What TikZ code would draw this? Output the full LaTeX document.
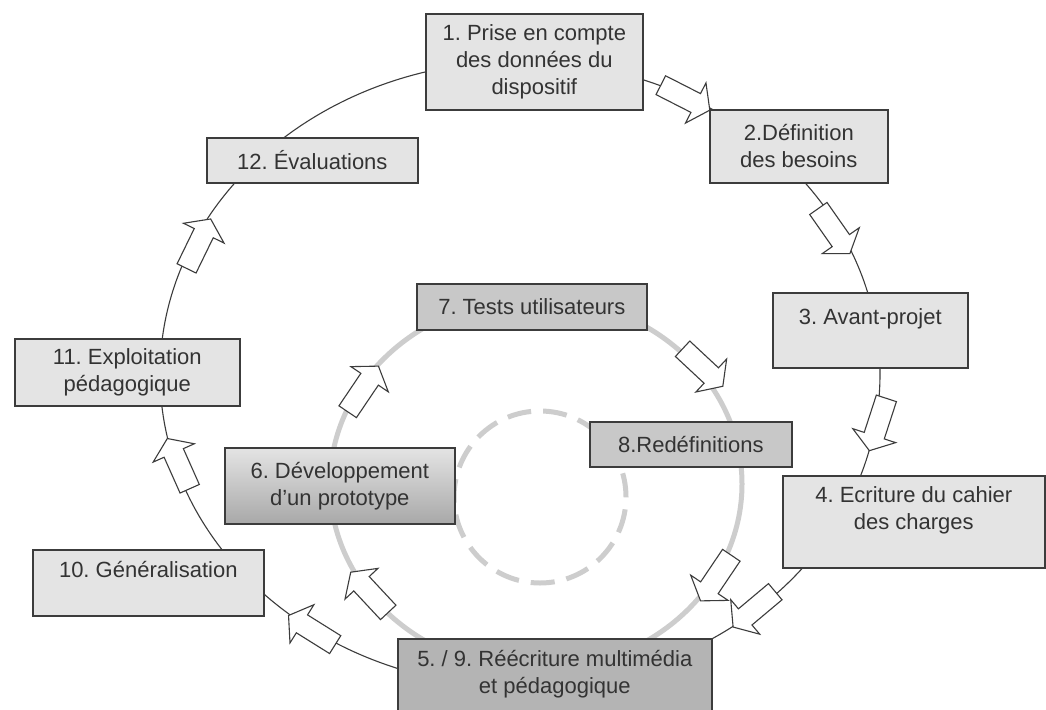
\documentclass[tikz,border=0pt]{standalone}
\usepackage{fontspec}
\setmainfont{Liberation Sans}
\usepackage{tikz}
\usetikzlibrary{shapes.arrows}
\frenchspacing

\definecolor{boxline}{HTML}{3C3C3C}
\definecolor{boxtext}{HTML}{333333}
\definecolor{lightfill}{HTML}{E4E4E4}
\definecolor{midfill}{HTML}{C8C8C8}
\definecolor{darkfill}{HTML}{B4B4B4}
\definecolor{ringgray}{HTML}{CDCDCD}

\tikzset{
  stagebox/.style={draw=boxline, line width=1.6pt, fill=lightfill, text=boxtext,
    anchor=north west, align=center, inner sep=0pt,
    font=\fontsize{22}{27}\selectfont},
  flowarrow/.style={single arrow, draw=boxline, fill=white, line width=1.1pt,
    minimum height=55pt, text height=10pt, text depth=10pt, single arrow head extend=12pt,
    single arrow tip angle=110, inner sep=0pt}
}

\begin{document}
\begin{tikzpicture}[x=1pt, y=-1pt]
\clip (0,0) rectangle (1046,709);
\fill[white] (0,0) rectangle (1046,709);

% outer cycle
\draw[boxline, line width=1.1pt] (520,374) ellipse [x radius=360pt, y radius=313pt];
% inner cycle
\draw[ringgray, line width=5pt] (536,484) ellipse [x radius=206pt, y radius=186pt];
\draw[ringgray, line width=5pt, dash pattern=on 24pt off 12pt] (540,497) circle [radius=86pt];

% stages
\node[stagebox, minimum width=217pt, minimum height=96pt] (prise) at (425,13) {1. Prise en compte\\des données du\\dispositif};
\node[stagebox, minimum width=178pt, minimum height=73pt] (besoins) at (709,109) {2.Définition\\des besoins};
\node[stagebox, minimum width=195pt, minimum height=75pt] (avant) at (772,292) {3. Avant-projet\\\mbox{}};
\node[stagebox, minimum width=262pt, minimum height=92pt] (cahier) at (782,475) {4. Ecriture du cahier\\des charges\\\mbox{}};
\node[stagebox, fill=darkfill, minimum width=314pt, minimum height=94pt] (reecriture) at (397,638) {5. / 9. Réécriture multimédia\\et pédagogique\\\mbox{}};
\node[stagebox, top color=lightfill, bottom color=black!34, minimum width=230pt, minimum height=76pt] (prototype) at (224,447) {6. Développement\\d’un prototype};
\node[stagebox, fill=midfill, minimum width=230pt, minimum height=46pt] (tests) at (416,283) {7. Tests utilisateurs};
\node[stagebox, fill=midfill, minimum width=202pt, minimum height=45pt] (redef) at (589,421) {8.Redéfinitions};
\node[stagebox, minimum width=231pt, minimum height=66pt] (general) at (32,549) {10. Généralisation\\\mbox{}};
\node[stagebox, minimum width=225pt, minimum height=67pt] (exploit) at (14,338) {11. Exploitation\\pédagogique};
\node[stagebox, minimum width=211pt, minimum height=45pt] (eval) at (206,137) {12. Évaluations};

% arrows on the outer cycle
\node[flowarrow, rotate=-27] (f1) at (682,96) {};
\node[flowarrow, rotate=-55] (f2) at (832,228) {};
\node[flowarrow, rotate=-108] (f3) at (879,421) {};
\node[flowarrow, rotate=-140] (f4) at (757,607) {};
\node[flowarrow, rotate=148] (f5) at (315,632) {};
\node[flowarrow, rotate=114] (f6) at (180,467) {};
\node[flowarrow, rotate=64] (f7) at (197,247) {};

% arrows on the inner cycle
\node[flowarrow, rotate=56] (g1) at (361,392) {};
\node[flowarrow, rotate=-43] (g2) at (700,365) {};
\node[flowarrow, rotate=-124] (g3) at (718,575) {};
\node[flowarrow, rotate=133] (g4) at (372,595) {};
\end{tikzpicture}
\end{document}
